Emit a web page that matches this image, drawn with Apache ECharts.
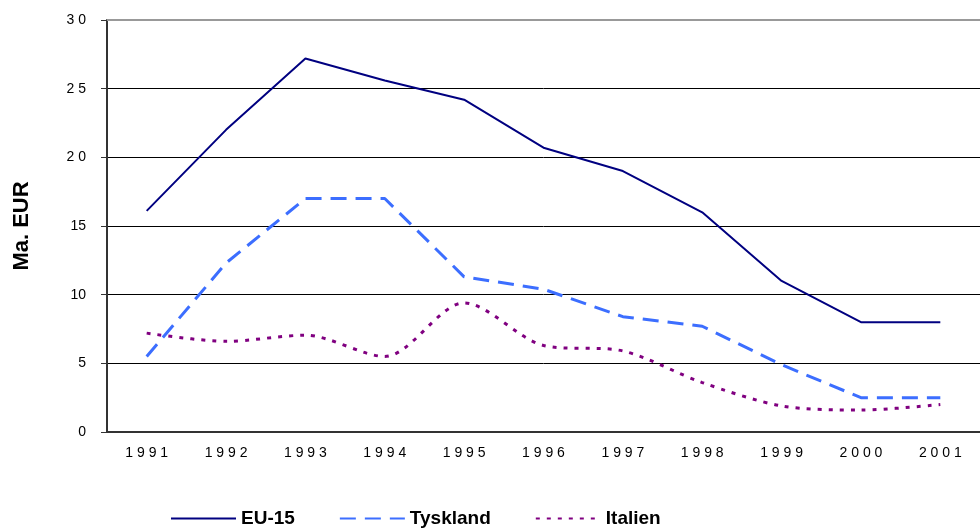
<!DOCTYPE html>
<html><head><meta charset="utf-8">
<script src="https://cdn.jsdelivr.net/npm/echarts@6/dist/echarts.min.js"></script>
<style>html,body{margin:0;padding:0;background:#fff}#c{width:980px;height:528px}</style>
</head><body><div id="c"></div>
<script>
const years = ['1991','1992','1993','1994','1995','1996','1997','1998','1999','2000','2001'];
const yearLabels = ['1 9 9 1','1 9 9 2','1 9 9 3','1 9 9 4','1 9 9 5','1 9 9 6','1 9 9 7','1 9 9 8','1 9 9 9','2 0 0 0','2 0 0 1'];
const yTickLabels = {0:'0',5:'5',10:'10',15:'15',20:'2 0',25:'2 5',30:'3 0'};
const eu15 = [16.1, 22.0, 27.2, 25.6, 24.2, 20.7, 19.0, 16.0, 11.0, 8.0, 8.0];
const tyskland = [5.5, 12.3, 17.0, 17.0, 11.3, 10.4, 8.4, 7.7, 4.9, 2.5, 2.5];
const italien = [7.2, 6.6, 7.05, 5.5, 9.4, 6.3, 5.9, 3.6, 1.9, 1.6, 2.0];

const chart = echarts.init(document.getElementById('c'));
chart.setOption({
  animation: false,
  textStyle: {fontFamily: 'Liberation Sans, Arial, sans-serif'},
  grid: {left: 107, top: 20, width: 878, height: 412},
  xAxis: {
    type: 'category', data: years, boundaryGap: true,
    axisLine: {lineStyle: {color: '#333', width: 2}},
    axisTick: {show: false},
    axisLabel: {color: '#000', fontSize: 14, margin: 14, formatter: (v, i) => yearLabels[i]}
  },
  yAxis: {
    type: 'value', min: 0, max: 30, interval: 5,
    name: 'Ma. EUR', nameLocation: 'middle', nameGap: 74, nameRotate: 90,
    nameTextStyle: {color: '#000', fontSize: 22, fontWeight: 'bold'},
    axisLine: {show: true, lineStyle: {color: '#333', width: 2}},
    axisTick: {show: true, length: 6, lineStyle: {color: '#333'}},
    axisLabel: {color: '#000', fontSize: 14, margin: 21, formatter: v => yTickLabels[v]},
    splitLine: {show: true, lineStyle: {color: '#000', width: 1}}
  },
  legend: {
    left: 165, top: 504, itemWidth: 65, itemHeight: 14, itemGap: 44,
    itemStyle: {opacity: 0},
    textStyle: {color: '#000', fontSize: 19, fontWeight: 'bold'},
    data: ['EU-15', 'Tyskland', 'Italien']
  },
  series: [
    {name: 'EU-15', type: 'line', data: eu15, symbol: 'none',
     lineStyle: {color: '#000080', width: 2}, itemStyle: {color: '#000080'}},
    {name: 'Tyskland', type: 'line', data: tyskland, symbol: 'none',
     lineStyle: {color: '#3C6EFF', width: 3, type: [16, 9]}, itemStyle: {color: '#3C6EFF'}},
    {name: 'Italien', type: 'line', data: italien, symbol: 'none', smooth: 0.3,
     lineStyle: {color: '#800080', width: 3, type: [4, 7]}, itemStyle: {color: '#800080'}},
    {type: 'line', data: [], markLine: {silent: true, symbol: 'none', label: {show: false},
      lineStyle: {color: '#999', width: 2, type: 'solid'}, data: [{yAxis: 30}]}}
  ]
});
</script></body></html>
